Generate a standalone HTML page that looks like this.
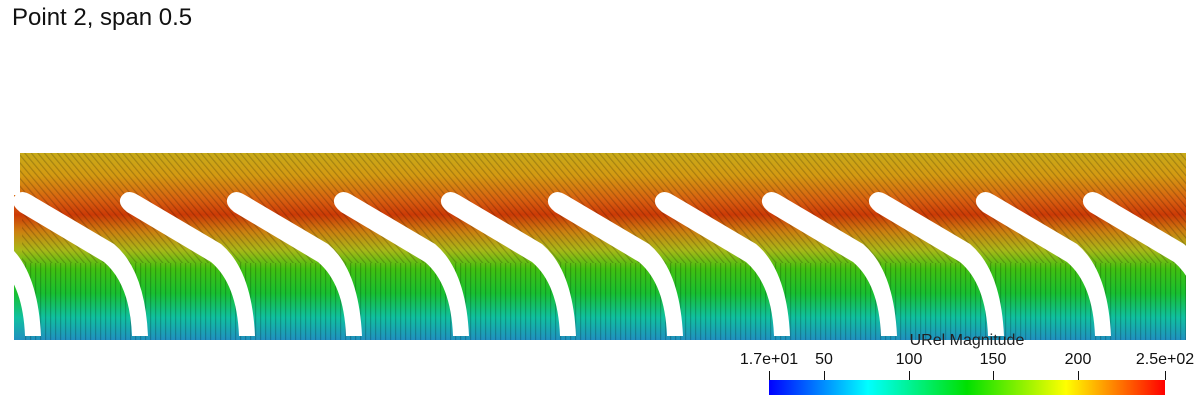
<!DOCTYPE html>
<html><head><style>
body{margin:0;background:#fff;width:1200px;height:400px;overflow:hidden;font-family:"Liberation Sans",sans-serif;}
</style></head><body>
<svg width="1200" height="400" xmlns="http://www.w3.org/2000/svg">
<defs>
<linearGradient id="fl" x1="0" y1="153" x2="0" y2="340" gradientUnits="userSpaceOnUse">
<stop offset="0" stop-color="#c8aa18"/>
<stop offset="0.12" stop-color="#d49a12"/>
<stop offset="0.25" stop-color="#d86010"/>
<stop offset="0.33" stop-color="#cc3a06"/>
<stop offset="0.42" stop-color="#cc8010"/>
<stop offset="0.52" stop-color="#a8b818"/>
<stop offset="0.62" stop-color="#40c010"/>
<stop offset="0.75" stop-color="#18c030"/>
<stop offset="0.88" stop-color="#10c0a0"/>
<stop offset="1" stop-color="#2090c0"/>
</linearGradient>
<linearGradient id="cb" x1="0" x2="1">
<stop offset="0" stop-color="#0000ff"/>
<stop offset="0.25" stop-color="#00ffff"/>
<stop offset="0.5" stop-color="#00e000"/>
<stop offset="0.75" stop-color="#ffff00"/>
<stop offset="1" stop-color="#ff0000"/>
</linearGradient>
<pattern id="st" width="5" height="5" patternUnits="userSpaceOnUse" patternTransform="rotate(-40)">
<rect width="1.2" height="5" fill="#000" opacity="0.2"/>
</pattern>
<pattern id="st2" width="5" height="5" patternUnits="userSpaceOnUse">
<rect width="1.2" height="5" fill="#000" opacity="0.2"/>
</pattern>
<g id="bl">
<path d="M0,197 Q6,188 17,195 L100,244 Q131,270 134,336 L118,336 Q116,284 90,262 L6,212 Q-4,204 0,197 Z" fill="#fff"/>
</g>
</defs>
<text x="12" y="25" font-size="24" fill="#111">Point 2, span 0.5</text>
<rect x="20" y="153" width="1166" height="187" fill="url(#fl)"/>
<rect x="20" y="153" width="1166" height="110" fill="url(#st)"/>
<rect x="20" y="263" width="1166" height="77" fill="url(#st2)"/>
<rect x="14" y="195" width="8" height="145" fill="url(#fl)"/>
<use href="#bl" x="-93"/>
<use href="#bl" x="14"/>
<use href="#bl" x="121"/>
<use href="#bl" x="228"/>
<use href="#bl" x="335"/>
<use href="#bl" x="442"/>
<use href="#bl" x="549"/>
<use href="#bl" x="656"/>
<use href="#bl" x="763"/>
<use href="#bl" x="870"/>
<use href="#bl" x="977"/>
<use href="#bl" x="1084"/>
<rect x="0" y="150" width="14" height="195" fill="#fff"/>
<rect x="1186" y="150" width="14" height="195" fill="#fff"/>
<text x="967" y="345" font-size="16" fill="#222" text-anchor="middle">URel Magnitude</text>
<g font-size="16" fill="#111" text-anchor="middle">
<text x="769" y="364">1.7e+01</text>
<text x="824" y="364">50</text>
<text x="909" y="364">100</text>
<text x="993" y="364">150</text>
<text x="1078" y="364">200</text>
<text x="1165" y="364">2.5e+02</text>
</g>
<rect x="769" y="380" width="396" height="15" fill="url(#cb)"/>
<g stroke="#111" stroke-width="1">
<line x1="769.5" y1="371" x2="769.5" y2="380"/>
<line x1="824.5" y1="371" x2="824.5" y2="380"/>
<line x1="909.5" y1="371" x2="909.5" y2="380"/>
<line x1="993.5" y1="371" x2="993.5" y2="380"/>
<line x1="1078.5" y1="371" x2="1078.5" y2="380"/>
<line x1="1165.5" y1="371" x2="1165.5" y2="380"/>
</g>
</svg>
</body></html>
